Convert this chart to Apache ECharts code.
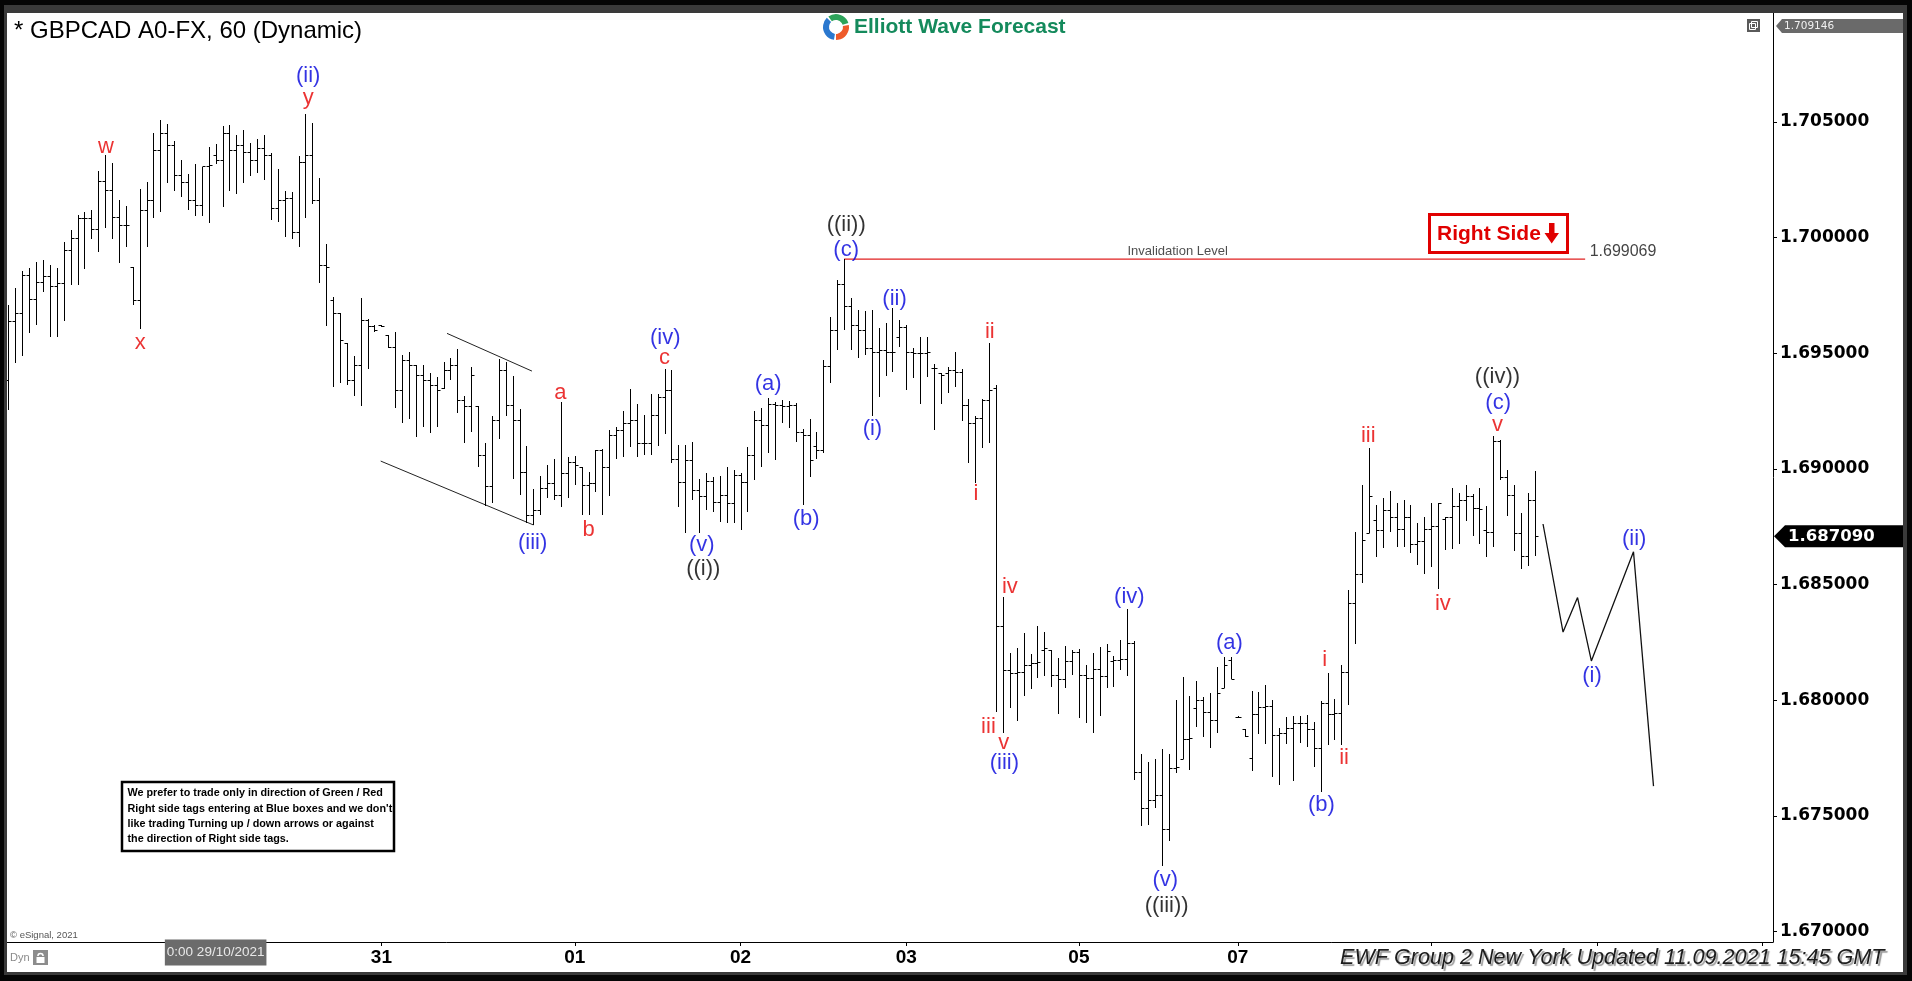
<!DOCTYPE html>
<html>
<head>
<meta charset="utf-8">
<title>GBPCAD A0-FX, 60</title>
<script src="https://cdn.jsdelivr.net/npm/echarts@6/dist/echarts.min.js"></script>
<style>
  html, body { margin: 0; padding: 0; background: #000; }
  #chart { width: 1912px; height: 981px; }
</style>
</head>
<body>
<div id="chart"></div>
<script>
// GBPCAD hourly OHLC bars (oldest first)
const opens = [
1.69384,1.69639,1.69674,1.69838,1.69734,1.69808,1.69834,1.69790,1.69803,1.69946,
1.69998,1.70084,1.70084,1.70037,1.70244,1.70206,1.70089,1.70054,1.69872,1.69730,
1.70119,1.70162,1.70379,1.70452,1.70400,1.70270,1.70240,1.70162,1.70141,1.70309,
1.70357,1.70335,1.70452,1.70379,1.70400,1.70370,1.70335,1.70387,1.70357,1.70128,
1.70162,1.70171,1.70024,1.70327,1.70357,1.70162,1.69881,1.69730,1.69674,1.69544,
1.69384,1.69449,1.69644,1.69618,1.69622,1.69579,1.69527,1.69341,1.69471,1.69449,
1.69406,1.69384,1.69363,1.69350,1.69428,1.69449,1.69298,1.69272,1.69272,1.69060,
1.68926,1.69211,1.69428,1.69276,1.69211,1.68986,1.68801,1.68822,1.68917,1.68939,
1.68887,1.68982,1.69030,1.69008,1.68930,1.68939,1.69082,1.69008,1.69147,1.69168,
1.69199,1.69211,1.69112,1.69112,1.69233,1.69311,1.69341,1.69043,1.68943,1.69038,
1.68909,1.68883,1.68948,1.68857,1.68887,1.68853,1.68973,1.68943,1.69060,1.69211,
1.69190,1.69281,1.69276,1.69272,1.69276,1.69160,1.69147,1.69099,1.69082,1.69445,
1.69600,1.69799,1.69704,1.69622,1.69600,1.69522,1.69505,1.69514,1.69505,1.69570,
1.69613,1.69505,1.69501,1.69501,1.69436,1.69415,1.69415,1.69428,1.69419,1.69276,
1.69199,1.69220,1.69298,1.69350,1.68321,1.68131,1.68118,1.68122,1.68152,1.68161,
1.68217,1.68217,1.68109,1.68092,1.68169,1.68208,1.68109,1.68096,1.68135,1.68105,
1.68169,1.68174,1.68178,1.68247,1.67690,1.67534,1.67569,1.67590,1.67443,1.67707,
1.67746,1.67832,1.67966,1.68001,1.67949,1.67914,1.68053,1.68174,1.67927,1.67875,
1.67750,1.67940,1.67971,1.67975,1.67850,1.67858,1.67880,1.67901,1.67901,1.67875,
1.67793,1.67988,1.67940,1.67945,1.68122,1.68420,1.68546,1.68723,1.68779,1.68736,
1.68822,1.68792,1.68740,1.68792,1.68675,1.68688,1.68740,1.68753,1.68783,1.68792,
1.68840,1.68866,1.68883,1.68831,1.68736,1.68727,1.69121,1.68965,1.68887,1.68723,
1.68623,1.68866
];
const highs = [
1.69708,1.69782,1.69855,1.69868,1.69894,1.69903,1.69881,1.69868,1.69981,1.70033,
1.70098,1.70110,1.70119,1.70288,1.70357,1.70322,1.70162,1.70136,1.69872,1.70210,
1.70240,1.70452,1.70508,1.70491,1.70417,1.70335,1.70275,1.70318,1.70305,1.70391,
1.70405,1.70482,1.70487,1.70444,1.70465,1.70409,1.70426,1.70444,1.70366,1.70296,
1.70201,1.70197,1.70353,1.70534,1.70495,1.70257,1.69972,1.69743,1.69674,1.69544,
1.69488,1.69739,1.69648,1.69622,1.69622,1.69579,1.69592,1.69492,1.69505,1.69449,
1.69449,1.69415,1.69397,1.69462,1.69479,1.69518,1.69315,1.69440,1.69272,1.69112,
1.69229,1.69475,1.69462,1.69402,1.69259,1.69099,1.68913,1.68969,1.69017,1.69043,
1.69289,1.69051,1.69056,1.69008,1.68986,1.69082,1.69086,1.69168,1.69181,1.69250,
1.69345,1.69281,1.69233,1.69324,1.69324,1.69432,1.69428,1.69103,1.69103,1.69116,
1.68956,1.68982,1.68965,1.68969,1.69008,1.68995,1.68982,1.69095,1.69250,1.69263,
1.69306,1.69289,1.69298,1.69294,1.69285,1.69172,1.69216,1.69160,1.69471,1.69657,
1.69816,1.69907,1.69739,1.69687,1.69683,1.69687,1.69609,1.69631,1.69695,1.69644,
1.69622,1.69522,1.69570,1.69570,1.69453,1.69415,1.69440,1.69505,1.69432,1.69302,
1.69229,1.69302,1.69544,1.69363,1.68446,1.68204,1.68226,1.68290,1.68200,1.68321,
1.68295,1.68217,1.68182,1.68234,1.68217,1.68221,1.68152,1.68204,1.68230,1.68243,
1.68191,1.68260,1.68394,1.68256,1.67767,1.67733,1.67746,1.67789,1.67767,1.68001,
1.68100,1.68018,1.68083,1.68014,1.68031,1.68143,1.68187,1.68187,1.67932,1.67875,
1.68040,1.68036,1.68066,1.68001,1.67880,1.67927,1.67932,1.67932,1.67936,1.67906,
1.67997,1.68118,1.68005,1.68152,1.68476,1.68727,1.68930,1.69090,1.68844,1.68874,
1.68904,1.68853,1.68866,1.68844,1.68766,1.68792,1.68853,1.68853,1.68792,1.68917,
1.68896,1.68930,1.68891,1.68917,1.68840,1.69142,1.69125,1.68995,1.68930,1.68809,
1.68896,1.68991
];
const lows = [
1.69255,1.69458,1.69488,1.69587,1.69622,1.69764,1.69570,1.69570,1.69639,1.69795,
1.69795,1.69864,1.69994,1.69938,1.70041,1.69994,1.69890,1.69959,1.69708,1.69605,
1.69959,1.70084,1.70110,1.70236,1.70201,1.70175,1.70119,1.70093,1.70093,1.70063,
1.70318,1.70132,1.70201,1.70188,1.70236,1.70266,1.70279,1.70249,1.70076,1.70067,
1.70002,1.69994,1.69959,1.70084,1.70145,1.69803,1.69618,1.69354,1.69371,1.69363,
1.69315,1.69272,1.69432,1.69592,1.69613,1.69522,1.69263,1.69199,1.69216,1.69138,
1.69181,1.69155,1.69181,1.69345,1.69384,1.69242,1.69112,1.69160,1.69008,1.68840,
1.68853,1.69129,1.69229,1.68956,1.68887,1.68766,1.68757,1.68801,1.68874,1.68866,
1.68835,1.68874,1.68930,1.68801,1.68801,1.68900,1.68801,1.68883,1.69043,1.69051,
1.69095,1.69051,1.69060,1.69060,1.69099,1.69151,1.69025,1.68835,1.68723,1.68866,
1.68723,1.68822,1.68814,1.68770,1.68766,1.68766,1.68736,1.68814,1.68952,1.69008,
1.69069,1.69038,1.69199,1.69177,1.69116,1.68844,1.68965,1.69043,1.69069,1.69371,
1.69514,1.69600,1.69514,1.69479,1.69492,1.69229,1.69311,1.69402,1.69419,1.69527,
1.69341,1.69393,1.69281,1.69397,1.69168,1.69281,1.69328,1.69354,1.69207,1.69025,
1.68939,1.69090,1.69112,1.67949,1.67858,1.67966,1.67910,1.68018,1.68049,1.68096,
1.68105,1.68057,1.67940,1.68053,1.68109,1.67923,1.67901,1.67858,1.67932,1.68053,
1.68057,1.68131,1.68105,1.67655,1.67456,1.67460,1.67534,1.67283,1.67391,1.67686,
1.67746,1.67698,1.67884,1.67841,1.67793,1.67858,1.68053,1.68092,1.67923,1.67841,
1.67694,1.67854,1.67811,1.67668,1.67634,1.67811,1.67651,1.67815,1.67798,1.67711,
1.67603,1.67806,1.67828,1.67806,1.67980,1.68243,1.68507,1.68723,1.68619,1.68658,
1.68727,1.68662,1.68662,1.68636,1.68584,1.68546,1.68576,1.68481,1.68649,1.68654,
1.68675,1.68775,1.68710,1.68675,1.68619,1.68662,1.68952,1.68796,1.68645,1.68567,
1.68580,1.68623
];
const closes = [
1.69639,1.69674,1.69838,1.69734,1.69808,1.69834,1.69790,1.69803,1.69946,1.69998,
1.70084,1.70084,1.70037,1.70244,1.70206,1.70089,1.70054,1.70054,1.69730,1.70119,
1.70162,1.70379,1.70452,1.70400,1.70270,1.70240,1.70162,1.70141,1.70309,1.70314,
1.70335,1.70452,1.70379,1.70400,1.70370,1.70335,1.70387,1.70357,1.70128,1.70162,
1.70171,1.70024,1.70327,1.70357,1.70162,1.69881,1.69872,1.69674,1.69557,1.69384,
1.69449,1.69644,1.69618,1.69600,1.69618,1.69527,1.69341,1.69471,1.69449,1.69406,
1.69384,1.69363,1.69341,1.69428,1.69449,1.69298,1.69272,1.69406,1.69060,1.68926,
1.69211,1.69428,1.69276,1.69211,1.68986,1.68801,1.68822,1.68917,1.68939,1.68887,
1.68982,1.69030,1.69017,1.68930,1.68939,1.69082,1.69008,1.69147,1.69168,1.69199,
1.69211,1.69112,1.69112,1.69233,1.69311,1.69341,1.69043,1.68943,1.69038,1.68909,
1.68883,1.68948,1.68857,1.68887,1.68853,1.68973,1.68943,1.69060,1.69211,1.69190,
1.69281,1.69276,1.69272,1.69276,1.69160,1.69147,1.69038,1.69082,1.69445,1.69600,
1.69799,1.69704,1.69622,1.69600,1.69522,1.69505,1.69514,1.69505,1.69505,1.69613,
1.69505,1.69501,1.69501,1.69505,1.69436,1.69406,1.69428,1.69419,1.69276,1.69199,
1.69220,1.69298,1.69341,1.68321,1.68131,1.68118,1.68122,1.68152,1.68161,1.68165,
1.68226,1.68109,1.68092,1.68169,1.68208,1.68109,1.68096,1.68135,1.68105,1.68213,
1.68174,1.68178,1.68247,1.67690,1.67534,1.67569,1.67590,1.67443,1.67707,1.67711,
1.67832,1.67837,1.68001,1.67949,1.67914,1.68031,1.68152,1.68092,1.67927,1.67845,
1.67940,1.67971,1.67975,1.67850,1.67858,1.67880,1.67901,1.67901,1.67875,1.67793,
1.67988,1.67940,1.67945,1.68122,1.68420,1.68546,1.68693,1.68883,1.68736,1.68822,
1.68792,1.68740,1.68792,1.68675,1.68688,1.68740,1.68753,1.68853,1.68792,1.68840,
1.68866,1.68883,1.68831,1.68827,1.68727,1.69121,1.68965,1.68887,1.68723,1.68623,
1.68866,1.68709
];

// time axis: hourly slots (bars plus room for the projected path)
const slotCount = 256;
const dayTickIndex = [30, 54, 82, 106, 130, 155, 178, 206, 230, 254];
const dayTickText = ['0:00 29/10/2021', '31', '01', '02', '03', '05', '07', '', '', ''];

// price axis
const priceMin = 1.66955;
const priceMax = 1.70971;
const priceTicks = [1.670, 1.675, 1.680, 1.685, 1.690, 1.695, 1.700, 1.705];
const scaleTopValue = 1.709146;

// invalidation level of the count
const invalidationLevel = 1.699069;
const invalidationFrom = 121;
const invalidationTo = 228.3;

// projected path after the last bar
const pathX = [222.2, 225.1, 227.2, 229.2, 235.3, 238.2];
const pathY = [1.68762, 1.68295, 1.68444, 1.68170, 1.68642, 1.67629];

// diagonal channel around wave (iii)
const channelUpperX = [63.5, 75.8];
const channelUpperY = [1.69586, 1.69423];
const channelLowerX = [53.9, 76.0];
const channelLowerY = [1.69034, 1.68758];

// Elliott wave labels (r = red degree, b = blue degree, k = black degree)
const waveText = ['w','(ii)','y','x','(iii)','a','b','(iv)','c','(v)','((i))','(a)','(b)','((ii))','(c)','(i)','(ii)','ii','i','iv','iii','v','(iii)','(iv)','(v)','((iii))','(a)','i','(b)','ii','iii','iv','((iv))','(c)','v','(i)','(ii)'];
const waveX = [14.1,43.4,43.4,19.1,75.9,79.9,84.0,95.1,95.0,100.4,100.6,110.0,115.5,121.3,121.3,125.1,128.3,142.1,140.1,145.0,141.9,144.1,144.2,162.3,167.5,167.7,176.8,190.6,190.1,193.4,196.9,207.7,215.6,215.7,215.6,229.3,235.4];
const waveY = [1.70392,1.70699,1.70603,1.69546,1.68678,1.69329,1.68736,1.69565,1.69481,1.68671,1.68567,1.69366,1.68783,1.70054,1.69946,1.69171,1.69734,1.69593,1.68894,1.68489,1.67885,1.67816,1.67727,1.68445,1.67223,1.67110,1.68246,1.68174,1.67547,1.67749,1.69142,1.68415,1.69396,1.69284,1.69190,1.68105,1.68696];
const waveDegree = ['r','b','r','r','b','r','r','b','r','b','k','b','b','k','b','b','b','r','r','r','r','r','b','b','b','k','b','r','b','r','r','r','k','b','r','b','b'];

const degreeColor = { r: '#e60000', b: '#0000dc', k: '#000000' };
const SANS = '"Liberation Sans", Arial, sans-serif';

function fontAvailable(name) {
  const ctx = document.createElement('canvas').getContext('2d');
  const sample = 'Right Side 0123456789';
  ctx.font = 'bold 25px monospace';
  const w1 = ctx.measureText(sample).width;
  ctx.font = 'bold 25px "' + name + '", monospace';
  const w2 = ctx.measureText(sample).width;
  return Math.abs(w1 - w2) > 0.5;
}
const hasNarrow = fontAvailable('Liberation Sans Narrow');

const barData = opens.map((o, i) => [i, o, highs[i], lows[i], closes[i]]);
const slotNames = Array.from({ length: slotCount }, (_, i) => String(i));
const isDayTick = (index) => dayTickIndex.indexOf(index) >= 0;

// OHLC bar: vertical high-low line, open tick to the left, close tick to the right
function renderBar(params, api) {
  const idx = api.value(0);
  const pO = api.coord([idx, api.value(1)]);
  const pH = api.coord([idx, api.value(2)]);
  const pL = api.coord([idx, api.value(3)]);
  const pC = api.coord([idx, api.value(4)]);
  const x = Math.round(pH[0]) + 0.5;
  const yH = Math.round(pH[1]);
  const yL = Math.max(Math.round(pL[1]), yH + 1);
  const yo = Math.round(pO[1]) + 0.5;
  const yc = Math.round(pC[1]) + 0.5;
  const st = { stroke: '#000', lineWidth: 1 };
  return {
    type: 'group',
    children: [
      { type: 'line', shape: { x1: x, y1: yH, x2: x, y2: yL }, style: st },
      { type: 'line', shape: { x1: x - 3, y1: yo, x2: x, y2: yo }, style: st },
      { type: 'line', shape: { x1: x, y1: yc, x2: x + 3, y2: yc }, style: st }
    ]
  };
}

const chart = echarts.init(document.getElementById('chart'), null, { renderer: 'canvas' });

const option = {
  animation: false,
  backgroundColor: '#ffffff',
  grid: { left: 5, right: 139, top: 13, bottom: 39, containLabel: false, outerBoundsMode: 'none' },
  xAxis: [
    {
      type: 'category',
      data: slotNames,
      boundaryGap: true,
      axisLine: { show: true, onZero: false, lineStyle: { color: '#000', width: 1 } },
      axisTick: { show: true, alignWithLabel: true, length: 4, interval: isDayTick, lineStyle: { color: '#000' } },
      axisLabel: {
        show: true,
        interval: isDayTick,
        margin: 3,
        formatter: function (value, index) {
          const k = dayTickIndex.indexOf(index);
          if (k < 0 || !dayTickText[k]) return '';
          return k === 0 ? '{box|' + dayTickText[k] + '}' : '{d|' + dayTickText[k] + '}';
        },
        rich: {
          d: { fontFamily: SANS, fontWeight: 'bold', fontSize: 19, color: '#000', padding: [6, 0, 0, 0], lineHeight: 19 },
          box: { fontFamily: SANS, fontSize: 13.5, color: '#e8e8e8', backgroundColor: '#6b6b6b', padding: [6, 2, 6, 2], lineHeight: 15 }
        }
      },
      splitLine: { show: false }
    },
    { type: 'value', min: -0.5, max: slotCount - 0.5, show: false, axisLine: { onZero: false } }
  ],
  yAxis: {
    type: 'value',
    position: 'right',
    min: priceMin,
    max: priceMax,
    splitNumber: 8,
    axisLine: { show: true, onZero: false, lineStyle: { color: '#000', width: 1 } },
    axisTick: { show: true, length: 4, customValues: priceTicks, lineStyle: { color: '#000' } },
    axisLabel: {
      show: true,
      customValues: priceTicks,
      margin: 7,
      fontFamily: '"DejaVu Sans", Verdana, sans-serif',
      fontWeight: 'bold',
      fontSize: 17,
      color: '#000',
      formatter: function (v) {
        const r = v / 0.005;
        return Math.abs(r - Math.round(r)) < 1e-6 ? v.toFixed(6) : '';
      }
    },
    splitLine: { show: false }
  },
  series: [
    {
      type: 'custom',
      name: 'GBPCAD',
      xAxisIndex: 0,
      yAxisIndex: 0,
      data: barData,
      encode: { x: 0, y: [1, 2, 3, 4] },
      renderItem: renderBar,
      clip: true,
      silent: true,
      z: 3
    },
    {
      type: 'line',
      name: 'channel upper',
      xAxisIndex: 1,
      data: channelUpperX.map((x, k) => [x, channelUpperY[k]]),
      symbol: 'none',
      lineStyle: { color: '#222', width: 1 },
      silent: true,
      z: 2
    },
    {
      type: 'line',
      name: 'channel lower',
      xAxisIndex: 1,
      data: channelLowerX.map((x, k) => [x, channelLowerY[k]]),
      symbol: 'none',
      lineStyle: { color: '#222', width: 1 },
      silent: true,
      z: 2
    },
    {
      type: 'line',
      name: 'invalidation',
      xAxisIndex: 1,
      data: [[invalidationFrom, invalidationLevel], [invalidationTo, invalidationLevel]],
      symbol: 'none',
      lineStyle: { color: '#e02020', width: 1.3 },
      silent: true,
      z: 2
    },
    {
      type: 'line',
      name: 'projection',
      xAxisIndex: 1,
      data: pathX.map((x, k) => [x, pathY[k]]),
      symbol: 'none',
      lineStyle: { color: '#111', width: 1.3 },
      silent: true,
      z: 2
    },
    {
      type: 'scatter',
      name: 'waves',
      xAxisIndex: 1,
      symbol: 'circle',
      symbolSize: 1,
      itemStyle: { color: 'rgba(0,0,0,0)' },
      silent: true,
      data: waveText.map((t, k) => ({
        name: t,
        value: [waveX[k], waveY[k]],
        label: { color: degreeColor[waveDegree[k]] }
      })),
      label: {
        show: true,
        position: 'inside',
        offset: [0, -2],
        formatter: (p) => p.name,
        fontFamily: SANS,
        fontSize: 22
      },
      labelLayout: { hideOverlap: false },
      z: 5
    },
    {
      type: 'scatter',
      name: 'level text',
      xAxisIndex: 1,
      symbol: 'circle',
      symbolSize: 1,
      itemStyle: { color: 'rgba(0,0,0,0)' },
      silent: true,
      data: [
        { name: 'Invalidation Level', value: [169.3, 1.69942],
          label: { position: 'inside', fontSize: 13, color: '#222' } },
        { name: invalidationLevel.toFixed(6), value: [invalidationTo, invalidationLevel],
          label: { position: 'right', distance: 4, offset: [0, -8], fontSize: 16, color: '#111' } }
      ],
      label: { show: true, formatter: (p) => p.name, fontFamily: SANS },
      z: 5
    }
  ]
};

chart.setOption(option);

// fixed decorations: frame, title, logo, tag boxes and notes
const lastClose = closes[closes.length - 1];
const yLast = chart.convertToPixel({ yAxisIndex: 0 }, lastClose);
const yTop = chart.convertToPixel({ yAxisIndex: 0 }, scaleTopValue);

const rightSideFont = hasNarrow
  ? 'bold 25px "Liberation Sans Narrow", "Arial Narrow", sans-serif'
  : 'bold 21px ' + SANS;

const rect = (id, x, y, w, h, fill, z) => ({ id, type: 'rect', shape: { x, y, width: w, height: h }, style: { fill }, z: z || 100, silent: true });

const graphics = [
  // outer frame
  rect('fb-top', 0, 0, 1912, 5, '#050505'),
  rect('fb-left', 0, 0, 4, 981, '#050505'),
  rect('fb-right', 1907, 0, 5, 981, '#050505'),
  rect('fb-bottom', 0, 975, 1912, 6, '#050505'),
  rect('fg-top', 4, 5, 1903, 8, '#3a3a3a'),
  rect('fg-left', 4, 5, 3, 970, '#3a3a3a'),
  rect('fg-right', 1903, 5, 4, 970, '#3a3a3a'),
  rect('fg-bottom', 4, 972, 1903, 3, '#3a3a3a'),
  // title
  { id: 'title', type: 'text', x: 14, y: 31.4, z: 50, silent: true,
    style: { text: '* GBPCAD A0-FX, 60 (Dynamic)', font: '24px ' + SANS, fill: '#000', verticalAlign: 'middle' } },
  // logo mark
  { id: 'logo-b', type: 'arc', z: 50, silent: true, shape: { cx: 836, cy: 27, r: 10, startAngle: Math.PI * 0.55, endAngle: Math.PI * 1.25 },
    style: { stroke: '#2a78cf', lineWidth: 6, fill: null } },
  { id: 'logo-g', type: 'arc', z: 50, silent: true, shape: { cx: 836, cy: 27, r: 10, startAngle: Math.PI * 1.3, endAngle: Math.PI * 1.9 },
    style: { stroke: '#2da35a', lineWidth: 6, fill: null } },
  { id: 'logo-o', type: 'arc', z: 50, silent: true, shape: { cx: 836, cy: 27, r: 10, startAngle: Math.PI * 1.95, endAngle: Math.PI * 2.5 },
    style: { stroke: '#ee5a2a', lineWidth: 6, fill: null } },
  { id: 'logo-t', type: 'text', x: 854, y: 27.7, z: 50, silent: true,
    style: { text: 'Elliott Wave Forecast', font: 'bold 21px ' + SANS, fill: '#148a5c', verticalAlign: 'middle' } },
  // right side tag
  { id: 'rs-box', type: 'rect', z: 50, silent: true, shape: { x: 1429.5, y: 214.5, width: 138, height: 38 },
    style: { fill: '#fff', stroke: '#e00000', lineWidth: 3 } },
  { id: 'rs-text', type: 'text', x: 1437, y: hasNarrow ? 233 : 234.4, z: 51, silent: true,
    style: { text: 'Right Side', font: rightSideFont, fill: '#e00000', verticalAlign: 'middle' } },
  { id: 'rs-arrow', type: 'polygon', z: 51, silent: true,
    shape: { points: [[1549, 223], [1554.5, 223], [1554.5, 233], [1559, 233], [1551.7, 243.5], [1544.5, 233], [1549, 233]] },
    style: { fill: '#e00000' } },
  // note box
  { id: 'note-box', type: 'rect', z: 50, silent: true, shape: { x: 122, y: 782, width: 272, height: 69 },
    style: { fill: '#fff', stroke: '#000', lineWidth: 2.5 } },
  { id: 'note-text', type: 'text', x: 127.5, y: 785.6, z: 51, silent: true,
    style: {
      text: "We prefer to trade only in direction of Green / Red\nRight side tags entering at Blue boxes and we don't\nlike trading Turning up / down arrows or against\nthe direction of Right side tags.",
      font: 'bold 10.8px ' + SANS, fill: '#000', lineHeight: 15.3, verticalAlign: 'top'
    } },
  // small footer items
  { id: 'esig', type: 'text', x: 10, y: 935, z: 50, silent: true,
    style: { text: '\u00a9 eSignal, 2021', font: '9.5px ' + SANS, fill: '#555', verticalAlign: 'middle' } },
  { id: 'dyn', type: 'text', x: 10, y: 958, z: 50, silent: true,
    style: { text: 'Dyn', font: '11px ' + SANS, fill: '#8a8a8a', verticalAlign: 'middle' } },
  rect('lock-bg', 33, 950, 15, 15, '#8c8c8c', 50),
  rect('lock-body', 36.5, 957, 8, 6, '#ffffff', 51),
  { id: 'lock-shackle', type: 'arc', z: 51, silent: true, shape: { cx: 40.5, cy: 956, r: 2.6, startAngle: Math.PI, endAngle: Math.PI * 2 },
    style: { stroke: '#fff', lineWidth: 1.5, fill: null } },
  { id: 'ewf', type: 'text', x: 1340, y: 957.7, z: 60, silent: true,
    style: {
      text: 'EWF Group 2 New York Updated 11.09.2021 15:45 GMT',
      font: 'italic 21.6px ' + SANS, fill: '#1c1c1c', verticalAlign: 'middle',
      textShadowColor: '#9a9a9a', textShadowOffsetX: 2, textShadowOffsetY: 2, textShadowBlur: 1
    } },
  // window icon at top right of the plot
  rect('win-icon', 1747, 19, 13, 13, '#5a5a5a', 50),
  { id: 'win-icon-a', type: 'rect', z: 51, silent: true, shape: { x: 1749.5, y: 23.5, width: 6, height: 6 },
    style: { fill: null, stroke: '#fff', lineWidth: 1 } },
  { id: 'win-icon-b', type: 'rect', z: 51, silent: true, shape: { x: 1751.5, y: 21.5, width: 6, height: 6 },
    style: { fill: null, stroke: '#fff', lineWidth: 1 } },
  // price tags on the price axis
  { id: 'tag-top', type: 'polygon', z: 50, silent: true,
    shape: { points: [[1776, yTop], [1782, yTop - 7], [1903, yTop - 7], [1903, yTop + 7], [1782, yTop + 7]] },
    style: { fill: '#6a6a6a' } },
  { id: 'tag-top-t', type: 'text', x: 1784, y: yTop, z: 51, silent: true,
    style: { text: scaleTopValue.toFixed(6), font: '10.5px "DejaVu Sans", sans-serif', fill: '#f0f0f0', verticalAlign: 'middle' } },
  { id: 'tag-last', type: 'polygon', z: 50, silent: true,
    shape: { points: [[1774, yLast], [1785, yLast - 11], [1903, yLast - 11], [1903, yLast + 11], [1785, yLast + 11]] },
    style: { fill: '#000' } },
  { id: 'tag-last-t', type: 'text', x: 1788, y: yLast, z: 51, silent: true,
    style: { text: lastClose.toFixed(6), font: 'bold 16.5px "DejaVu Sans", Verdana, sans-serif', fill: '#fff', verticalAlign: 'middle' } }
];

chart.setOption({ graphic: { elements: graphics } });
</script>
</body>
</html>
